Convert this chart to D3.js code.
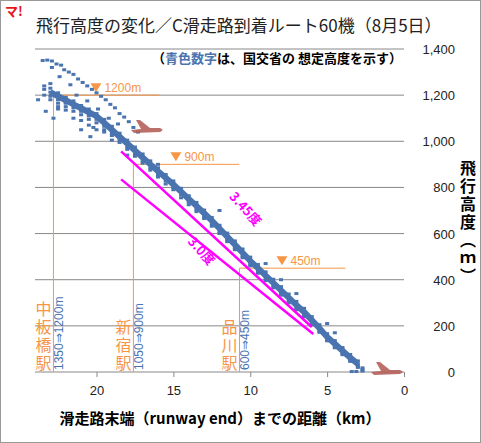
<!DOCTYPE html>
<html><head><meta charset="utf-8">
<script src="https://cdn.jsdelivr.net/npm/d3@7"></script>
<style>body{margin:0;background:#fff;font-family:"Noto Sans CJK JP",sans-serif}</style>
</head><body><svg id="c" width="481" height="443"></svg>
<script>
// Main band: [km, altitudes observed at that distance]
const bandTracks = [
  [23.4,[1225,1200,1240]],[23.0,[1213,1195,1230,1180,1250]],[22.5,[1195,1180,1210,1165,1150]],
  [22.0,[1178,1165,1190,1150,1135]],[21.5,[1160,1145,1175,1130,1100]],[21.0,[1143,1130,1155,1115,1090]],
  [20.5,[1126,1110,1140,1095,1070]],[20.0,[1109,1095,1120,1080,1050]],[19.5,[1080,1065,1095,1050,1040]],
  [19.0,[1050,1035,1065,1025,1005]],[18.5,[1020,1005,1035,995]],[18.0,[990,975,1005,965,940]],
  [17.5,[960,945,975,935]],[17.0,[930,915,945,905]],[16.5,[900,885,915,875]],[16.0,[870,855,885,845]],
  [15.5,[842,828,856,815]],[15.0,[813,798,828,790]],[14.5,[782,768,796,755]],[14.0,[750,736,764,725]],
  [13.5,[720,705,735,695]],[13.0,[688,673,702,665]],[12.5,[656,642,670,632]],[12.0,[622,608,636,600]],
  [11.5,[587,573,602,565]],[11.0,[552,538,568,530]],[10.5,[517,503,533,495]],[10.0,[482,468,498,460]],
  [9.5,[450,436,466,428]],[9.0,[418,404,434,396]],[8.5,[386,372,402,365]],[8.0,[354,340,370,333]],
  [7.5,[322,308,338,300]],[7.0,[290,276,306,270]],[6.5,[260,246,276,240]],[6.0,[225,212,240,205]],
  [5.5,[190,178,205,172]],[5.0,[152,140,166,135]],[4.5,[122,110,136,105]],[4.0,[92,80,106,75]],
  [3.5,[62,52,76,46]],[3.0,[35,25,48,20]],[2.7,[10,4,18]],[3.4,[2]],[3.1,[2]]
];
// Scattered higher approaches
const upperPts = [
  [23.5,1350],[23.2,1352],[22.9,1348],[22.6,1335],[22.3,1330],[22.9,1320],[22.1,1310],[21.8,1300],
  [21.5,1290],[22.4,1280],[21.2,1270],[20.9,1255],[21.7,1245],[20.6,1240],[20.3,1225],[20.0,1210],
  [21.3,1200],[19.7,1195],[19.4,1180],[20.6,1175],[19.1,1160],[18.8,1145],[19.9,1140],[18.5,1120],
  [18.2,1105],[19.2,1100],[17.9,1085],[18.6,1075],[17.6,1060],[20.2,1060],[17.3,1040],[22.0,1170],
  [22.5,1140],[23.3,1130],[23.8,1180],[22.8,1100],[21.0,1050],[20.4,1020],[16.0,900],[12.0,700],
  [9.0,470],[8.0,400],[7.0,340],[5.0,210],[4.5,170]
];
const xTicks = [20, 15, 10, 5, 0];
const yTicks = [0, 200, 400, 600, 800, 1000, 1200, 1400];
const stations = [
  {name: "中板橋駅", km: 22.8, alt: 1200, note: "1350⇒1200m", mark: "1200m"},
  {name: "新宿駅", km: 17.6, alt: 900, note: "1050⇒900m", mark: "900m"},
  {name: "品川駅", km: 10.7, alt: 450, note: "600⇒450m", mark: "450m"}
];
const glide345 = [[18.4, 956], [6.0, 195]];
const glide30 = [[18.4, 835], [5.9, 165]];

const svg = d3.select("#c");
const x = d3.scaleLinear().domain([24, 0]).range([35, 404]);
const y = d3.scaleLinear().domain([0, 1400]).range([372, 49]);
const orange = "#f79646", blue = "#4a74b0", mag = "#ff00ff";

svg.append("rect").attr("x", 0.5).attr("y", 0.5).attr("width", 480).attr("height", 442)
  .attr("fill", "none").attr("stroke", "#999");
svg.append("text").attr("x", 5).attr("y", 16).attr("fill", "#e8141c").attr("font-weight", "bold")
  .attr("font-size", 13).text("マ!");
svg.append("text").attr("x", 36).attr("y", 32).attr("font-size", 17).attr("fill", "#222")
  .text("飛行高度の変化／C滑走路到着ルート60機（8月5日）");

// grid + right axis
svg.append("g").selectAll("line").data(yTicks.slice(1)).join("line")
  .attr("x1", 35).attr("x2", 404).attr("y1", d => y(d)).attr("y2", d => y(d))
  .attr("stroke", "#888");
svg.append("g").selectAll("text").data(yTicks).join("text")
  .attr("x", 455).attr("y", d => y(d) + 5).attr("text-anchor", "end")
  .attr("font-size", 13).attr("font-family", "Liberation Sans, sans-serif").attr("fill", "#222")
  .text(d => d3.format(",")(d));
const xa = svg.append("g").attr("transform", "translate(0,372)")
  .call(d3.axisBottom(x).tickValues(xTicks).tickSize(5).tickPadding(9));
xa.select(".domain").attr("stroke", "#888").attr("d", "M35,0H404");
xa.selectAll("line").attr("stroke", "#888");
xa.selectAll("text").attr("font-size", 13).attr("font-family", "Liberation Sans, sans-serif").attr("fill", "#222");

svg.append("text").attr("x", 468).attr("y", 160).attr("font-size", 16).attr("font-weight", "bold")
  .attr("writing-mode", "vertical-rl").attr("letter-spacing", 2).text("飛行高度（ｍ）");
svg.append("text").attr("x", 220).attr("y", 424).attr("text-anchor", "middle").attr("font-size", 15)
  .attr("font-weight", "bold").text("滑走路末端（runway end）までの距離（km）");
const sub = svg.append("text").attr("x", 402).attr("y", 63).attr("text-anchor", "end")
  .attr("font-size", 13).attr("font-weight", "bold");
sub.append("tspan").text("（");
sub.append("tspan").attr("fill", blue).text("青色数字");
sub.append("tspan").text("は、国交省の 想定高度を示す）");

// stations
stations.forEach(s => {
  const sx = x(s.km), sy = y(s.alt);
  svg.append("line").attr("x1", sx).attr("x2", sx).attr("y1", sy).attr("y2", 372).attr("stroke", orange);
  svg.append("line").attr("x1", sx).attr("x2", sx + 106).attr("y1", sy).attr("y2", sy).attr("stroke", orange);
  svg.append("path").attr("d", `M${sx + 37},${sy - 12}h11l-5.5,9z`).attr("fill", orange);
  svg.append("text").attr("x", sx + 51).attr("y", sy - 3).attr("font-size", 12)
    .attr("font-family", "Liberation Sans, sans-serif").attr("fill", orange).text(s.mark);
  const chars = Array.from(s.name);
  svg.append("g").selectAll("text").data(chars).join("text")
    .attr("x", sx - 10).attr("y", (d, i) => 369 - (chars.length - 1 - i) * 18)
    .attr("text-anchor", "middle").attr("font-size", 16).attr("fill", orange).text(d => d);
  svg.append("text").attr("transform", `translate(${sx + 10},370) rotate(-90)`).attr("font-size", 12)
    .attr("font-family", "Liberation Sans, sans-serif").attr("fill", blue).text(s.note);
});

// scatter
const pts = bandTracks.flatMap(([k, alts]) => alts.map(a => [k, a])).concat(upperPts);
svg.append("path").datum(bandTracks.filter(d => d[1].length > 3).map(d => [d[0], d[1][0]]))
  .attr("d", d3.line().x(d => x(d[0])).y(d => y(d[1])))
  .attr("fill", "none").attr("stroke", blue).attr("stroke-width", 6);
svg.append("g").selectAll("rect").data(pts).join("rect")
  .attr("x", d => x(d[0]) - 2).attr("y", d => y(d[1]) - 1.5).attr("width", 4).attr("height", 3)
  .attr("fill", blue);

// glide lines
[[glide345, "3.45度", 242, 212], [glide30, "3.0度", 198, 254]].forEach(([g, lab, lx, ly]) => {
  svg.append("line").attr("x1", x(g[0][0])).attr("y1", y(g[0][1])).attr("x2", x(g[1][0])).attr("y2", y(g[1][1]))
    .attr("stroke", mag).attr("stroke-width", 2.5);
  svg.append("text").attr("transform", `translate(${lx},${ly}) rotate(48)`).attr("font-size", 13)
    .attr("font-weight", "bold").attr("fill", mag).attr("text-anchor", "middle").text(lab);
});

// planes
[[148, 128], [388, 370]].forEach(([px, py]) => {
  svg.append("path").attr("fill", "#b4605a").attr("opacity", 0.9)
    .attr("d", `M${px - 17},${py + 2} L${px - 7},${py + 1} L${px - 12},${py - 8} L${px - 8},${py - 8} L${px + 2},${py} L${px + 12},${py} Q${px + 17},${py + 2} ${px + 12},${py + 4} L${px - 14},${py + 5} Z`);
});
</script></body></html>
